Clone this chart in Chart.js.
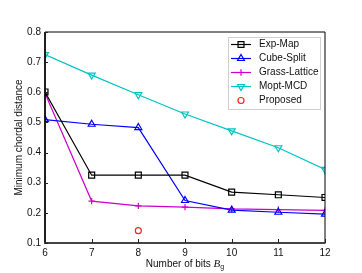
<!DOCTYPE html>
<html>
<head>
<meta charset="utf-8">
<script src="https://cdn.jsdelivr.net/npm/chart.js@4.4.1/dist/chart.umd.min.js"></script>
<style>
  html, body { margin: 0; padding: 0; background: #fff; }
  #wrap { width: 362px; height: 273px; }
</style>
</head>
<body>
<div id="wrap"><canvas id="chart" width="362" height="273"></canvas></div>
<script>
// Data
const bits = [6, 7, 8, 9, 10, 11, 12];
const expMap = [0.601, 0.325, 0.325, 0.325, 0.269, 0.260, 0.251];
const cubeSplit = [0.509, 0.494, 0.483, 0.241, 0.209, 0.202, 0.196];
const grassLattice = [0.597, 0.239, 0.223, 0.219, 0.213, 0.211, 0.208];
const moptMCD = [0.725, 0.657, 0.592, 0.528, 0.472, 0.416, 0.344];
const proposedX = [8];
const proposedY = [0.141];
const xTicks = [6, 7, 8, 9, 10, 11, 12];
const yTicks = [0.1, 0.2, 0.3, 0.4, 0.5, 0.6, 0.7, 0.8];

const FONT = 'Liberation Sans, Arial, sans-serif';

const toPoints = (xs, ys) => xs.map((x, i) => ({ x: x, y: ys[i] }));

const makeSeries = (label, ys, color, style, extra) => Object.assign({
  label: label,
  data: toPoints(bits, ys),
  borderColor: color,
  backgroundColor: 'transparent',
  pointBorderColor: color,
  pointBackgroundColor: 'transparent',
  pointStyle: style,
  pointRadius: 4,
  pointBorderWidth: 1.2,
  borderWidth: 1.2,
  showLine: true,
  tension: 0
}, extra || {});

const datasets = [
  makeSeries('Exp-Map', expMap, '#000000', 'rect', { pointRadius: 4.2 }),
  makeSeries('Cube-Split', cubeSplit, '#0000ff', 'triangle'),
  makeSeries('Grass-Lattice', grassLattice, '#cc00cc', 'cross', { pointRadius: 3.2 }),
  makeSeries('Mopt-MCD', moptMCD, '#00c4c4', 'triangle', { pointRotation: 180 }),
  {
    label: 'Proposed',
    data: toPoints(proposedX, proposedY),
    borderColor: '#ff2020',
    backgroundColor: 'transparent',
    pointBorderColor: '#ff2020',
    pointBackgroundColor: 'transparent',
    pointStyle: 'circle',
    pointRadius: 3,
    pointBorderWidth: 1.2,
    showLine: false
  }
];

// Frame, inward ticks, axis titles and legend box
const decorations = {
  id: 'decorations',
  afterDraw(chart) {
    const { ctx, chartArea: a, scales } = chart;
    ctx.save();

    // frame
    ctx.strokeStyle = '#000';
    ctx.lineWidth = 1;
    ctx.beginPath();
    ctx.moveTo(a.left, a.bottom);
    ctx.lineTo(a.left, a.top);
    ctx.lineTo(a.right, a.top);
    ctx.lineTo(a.right, a.bottom);
    ctx.stroke();
    ctx.lineWidth = 1.5;
    ctx.beginPath();
    ctx.moveTo(a.left, a.top);
    ctx.lineTo(a.left, a.bottom);
    ctx.stroke();
    ctx.strokeStyle = '#444';
    ctx.lineWidth = 2;
    ctx.beginPath();
    ctx.moveTo(a.left - 1, a.bottom);
    ctx.lineTo(a.right + 0.5, a.bottom);
    ctx.stroke();

    // inward ticks
    ctx.strokeStyle = '#222';
    ctx.lineWidth = 1;
    ctx.beginPath();
    xTicks.forEach(v => {
      const px = Math.round(scales.x.getPixelForValue(v)) + 0.5;
      ctx.moveTo(px, a.bottom);
      ctx.lineTo(px, a.bottom - 4);
    });
    yTicks.forEach(v => {
      const py = Math.round(scales.y.getPixelForValue(v)) + 0.5;
      ctx.moveTo(a.left, py);
      ctx.lineTo(a.left + 3, py);
    });
    ctx.stroke();

    // axis titles
    ctx.fillStyle = '#111';
    ctx.font = '10px ' + FONT;
    ctx.textBaseline = 'middle';
    ctx.save();
    ctx.translate(19, (a.top + a.bottom) / 2);
    ctx.rotate(-Math.PI / 2);
    ctx.textAlign = 'center';
    ctx.fillText('Minimum chordal distance', 0, 0);
    ctx.restore();

    const part1 = 'Number of bits ';
    ctx.font = '10px ' + FONT;
    const w1 = ctx.measureText(part1).width;
    ctx.font = 'italic 11px "Liberation Serif", serif';
    const w2 = ctx.measureText('B').width;
    ctx.font = '7px ' + FONT;
    const w3 = ctx.measureText('g').width;
    let x0 = (a.left + a.right) / 2 - (w1 + w2 + w3) / 2;
    const ty = 264;
    ctx.textAlign = 'left';
    ctx.font = '10px ' + FONT;
    ctx.fillText(part1, x0, ty);
    ctx.font = 'italic 11px "Liberation Serif", serif';
    ctx.fillText('B', x0 + w1, ty);
    ctx.font = '7px ' + FONT;
    ctx.fillText('g', x0 + w1 + w2, ty + 3);

    // legend box
    const lx = 228, ly = 37, lw = 92, lh = 72;
    ctx.fillStyle = '#fff';
    ctx.fillRect(lx, ly, lw, lh);
    ctx.strokeStyle = '#d0d0d0';
    ctx.lineWidth = 1;
    ctx.strokeRect(lx + 0.5, ly + 0.5, lw, lh);
    ctx.font = '10px ' + FONT;
    ctx.textAlign = 'left';
    chart.data.datasets.forEach((ds, i) => {
      const y = ly + 7.5 + i * 14;
      if (ds.showLine !== false) {
        ctx.strokeStyle = ds.borderColor;
        ctx.lineWidth = 1.2;
        ctx.beginPath();
        ctx.moveTo(lx + 3, y);
        ctx.lineTo(lx + 23, y);
        ctx.stroke();
      }
      ctx.fillStyle = 'rgba(0,0,0,0)';
      ctx.strokeStyle = ds.pointBorderColor;
      ctx.lineWidth = ds.pointBorderWidth;
      Chart.helpers.drawPoint(ctx, {
        pointStyle: ds.pointStyle,
        radius: ds.pointRadius,
        rotation: ds.pointRotation || 0,
        borderWidth: ds.pointBorderWidth
      }, lx + 13, y);
      ctx.fillStyle = '#111';
      ctx.fillText(ds.label, lx + 31, y);
    });

    ctx.restore();
  }
};

const ctx = document.getElementById('chart');
new Chart(ctx, {
  type: 'scatter',
  data: { datasets: datasets },
  options: {
    responsive: false,
    animation: false,
    layout: { padding: { top: 32, right: 37, left: 0, bottom: 0 } },
    plugins: {
      legend: { display: false },
      tooltip: { enabled: false }
    },
    scales: {
      x: {
        type: 'linear',
        min: 6,
        max: 12,
        afterFit: (s) => { s.height = 30; },
        afterBuildTicks: (s) => { s.ticks = xTicks.map(v => ({ value: v })); },
        grid: { display: false, drawTicks: false },
        border: { display: false },
        ticks: {
          padding: 4,
          color: '#111',
          font: { family: FONT, size: 10 },
          maxRotation: 0
        }
      },
      y: {
        type: 'linear',
        min: 0.1,
        max: 0.8,
        afterFit: (s) => { s.width = 45; },
        afterBuildTicks: (s) => { s.ticks = yTicks.map(v => ({ value: v })); },
        grid: { display: false, drawTicks: false },
        border: { display: false },
        ticks: {
          padding: 4,
          color: '#111',
          font: { family: FONT, size: 10 },
          callback: (v) => v.toFixed(1)
        }
      }
    }
  },
  plugins: [decorations]
});
</script>
</body>
</html>
